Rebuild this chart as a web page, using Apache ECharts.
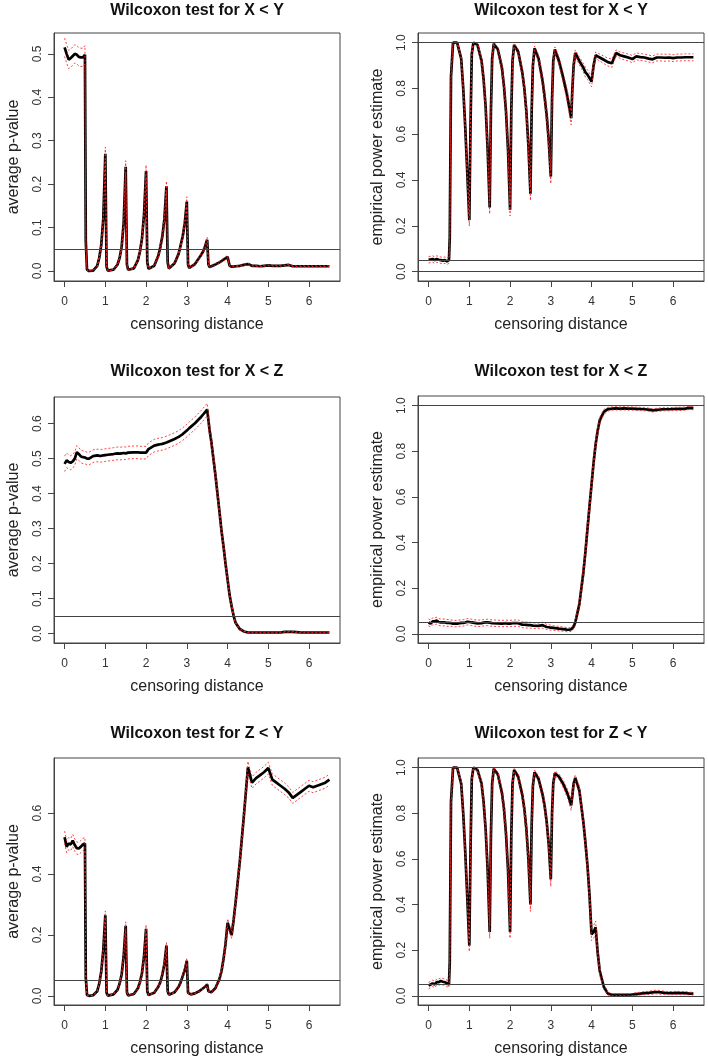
<!DOCTYPE html>
<html>
<head>
<meta charset="utf-8">
<title>Wilcoxon test censoring</title>
<script src="https://cdn.jsdelivr.net/npm/echarts@6.0.0/dist/echarts.min.js"></script>
<style>
  html, body { margin: 0; padding: 0; background: #fff; }
  #main { width: 708px; height: 1061px; }
</style>
</head>
<body>
<div id="main"></div>
<script>
// censoring distance grid shared by every panel
var dist = [0,0.05,0.1,0.15,0.2,0.25,0.3,0.35,0.4,0.45,0.5,
  0.52,0.55,0.6,0.7,0.8,0.85,0.9,0.95,1.0,
  1.03,1.06,1.1,1.2,1.3,1.35,1.4,1.45,1.5,
  1.53,1.56,1.6,1.7,1.8,1.85,1.9,1.95,2.0,
  2.03,2.06,2.1,2.2,2.3,2.35,2.4,2.45,2.5,
  2.53,2.56,2.6,2.7,2.8,2.85,2.9,2.95,3.0,
  3.03,3.06,3.1,3.2,3.3,3.35,3.4,3.45,3.5,
  3.53,3.56,3.6,3.7,3.8,3.85,3.9,3.95,4.0,
  4.05,4.1,4.15,4.2,4.3,4.4,4.5,
  4.6,4.7,4.8,4.9,5.0,5.1,5.2,5.3,5.4,5.5,5.6,5.7,5.8,5.9,6.0,6.1,6.2,6.3,6.4,6.5];

// X < Y : average p-value and band half width
var pvalXY = [0.515,0.500,0.487,0.490,0.495,0.500,0.498,0.493,0.492,0.492,0.498,
  0.070,0.003,0.000,0.001,0.012,0.030,0.060,0.120,0.270,
  0.010,0.001,0.000,0.003,0.015,0.030,0.055,0.110,0.240,
  0.015,0.003,0.002,0.006,0.025,0.045,0.075,0.130,0.230,
  0.020,0.005,0.004,0.012,0.035,0.055,0.080,0.120,0.195,
  0.020,0.006,0.006,0.018,0.040,0.060,0.080,0.110,0.160,
  0.015,0.007,0.008,0.016,0.030,0.037,0.045,0.057,0.072,
  0.015,0.009,0.010,0.015,0.020,0.023,0.026,0.029,0.033,
  0.012,0.010,0.010,0.011,0.012,0.014,0.016,
  0.012,0.012,0.011,0.012,0.013,0.012,0.012,0.012,0.013,0.014,0.011,0.011,0.011,0.011,0.011,0.011,0.011,0.011,0.011,0.011];
var pvalXYHalf = [0.021,0.021,0.021,0.021,0.021,0.021,0.021,0.021,0.021,0.021,0.021,
  0.010,0.001,0.0005,0.0005,0.002,0.004,0.006,0.009,0.015,
  0.002,0.0005,0.0005,0.001,0.002,0.004,0.006,0.009,0.014,
  0.002,0.001,0.001,0.001,0.003,0.005,0.007,0.010,0.014,
  0.002,0.001,0.001,0.002,0.004,0.006,0.007,0.009,0.012,
  0.002,0.001,0.001,0.002,0.004,0.006,0.007,0.009,0.011,
  0.002,0.001,0.001,0.002,0.003,0.004,0.004,0.005,0.006,
  0.002,0.001,0.001,0.002,0.002,0.002,0.003,0.003,0.003,
  0.001,0.001,0.001,0.001,0.001,0.002,0.002,
  0.001,0.001,0.001,0.001,0.001,0.001,0.001,0.001,0.001,0.001,0.001,0.001,0.001,0.001,0.001,0.001,0.001,0.001,0.001,0.001];

// X < Y : empirical power
var powerXY = [0.052,0.053,0.055,0.050,0.055,0.052,0.050,0.048,0.050,0.045,0.050,
  0.15,0.85,1.0,1.0,0.93,0.80,0.63,0.43,0.225,
  0.65,0.95,1.0,0.99,0.92,0.84,0.72,0.53,0.28,
  0.70,0.93,0.995,0.97,0.89,0.81,0.70,0.53,0.27,
  0.70,0.92,0.99,0.96,0.87,0.80,0.70,0.55,0.34,
  0.70,0.90,0.975,0.93,0.83,0.76,0.68,0.57,0.415,
  0.75,0.92,0.97,0.92,0.85,0.81,0.77,0.72,0.67,
  0.80,0.90,0.955,0.92,0.89,0.87,0.86,0.845,0.83,
  0.90,0.945,0.94,0.935,0.925,0.915,0.91,
  0.955,0.945,0.94,0.935,0.928,0.94,0.937,0.935,0.93,0.927,0.935,0.935,0.934,0.935,0.932,0.935,0.935,0.936,0.936,0.936];
var powerXYHalf = [0.014,0.014,0.014,0.014,0.014,0.014,0.014,0.014,0.014,0.014,0.014,
  0.022,0.022,0.002,0.002,0.016,0.025,0.030,0.031,0.026,
  0.030,0.013,0.002,0.006,0.017,0.023,0.028,0.031,0.028,
  0.028,0.016,0.004,0.011,0.019,0.024,0.028,0.031,0.027,
  0.028,0.017,0.006,0.012,0.021,0.025,0.028,0.031,0.029,
  0.028,0.019,0.010,0.016,0.023,0.026,0.029,0.031,0.031,
  0.027,0.017,0.011,0.017,0.022,0.024,0.026,0.028,0.029,
  0.025,0.019,0.013,0.017,0.019,0.021,0.021,0.022,0.023,
  0.019,0.014,0.015,0.015,0.016,0.017,0.018,
  0.013,0.014,0.015,0.015,0.016,0.015,0.015,0.015,0.015,0.015,0.015,0.015,0.015,0.015,0.015,0.015,0.015,0.015,0.015,0.015];

// X < Z : average p-value
var pvalXZ = [0.485,0.495,0.490,0.488,0.492,0.500,0.518,0.513,0.506,0.504,0.503,
  0.502,0.500,0.500,0.507,0.509,0.508,0.508,0.509,0.510,
  0.510,0.511,0.512,0.513,0.515,0.514,0.515,0.516,0.515,
  0.516,0.517,0.519,0.518,0.518,0.517,0.517,0.517,0.517,
  0.522,0.527,0.532,0.537,0.540,0.541,0.542,0.544,0.546,
  0.548,0.549,0.551,0.556,0.562,0.566,0.570,0.575,0.580,
  0.584,0.587,0.591,0.601,0.613,0.619,0.626,0.633,0.640,
  0.610,0.580,0.550,0.455,0.350,0.295,0.250,0.200,0.155,
  0.110,0.078,0.050,0.030,0.013,0.006,0.003,
  0.003,0.003,0.003,0.003,0.003,0.003,0.003,0.003,0.005,0.005,0.005,0.004,0.003,0.003,0.003,0.003,0.003,0.003,0.003,0.003];
var pvalXZHalf = [0.022,0.021,0.020,0.020,0.020,0.019,0.019,0.018,0.018,0.018,0.018,
  0.018,0.018,0.018,0.018,0.018,0.018,0.018,0.018,0.018,
  0.018,0.018,0.018,0.018,0.018,0.018,0.018,0.018,0.018,
  0.018,0.018,0.018,0.018,0.018,0.018,0.018,0.018,0.018,
  0.018,0.018,0.018,0.018,0.018,0.018,0.018,0.018,0.018,
  0.018,0.018,0.018,0.018,0.018,0.018,0.018,0.018,0.018,
  0.018,0.018,0.018,0.018,0.018,0.018,0.018,0.018,0.018,
  0.017,0.017,0.017,0.016,0.015,0.014,0.013,0.012,0.010,
  0.008,0.006,0.005,0.003,0.002,0.001,0.001,
  0.001,0.001,0.001,0.001,0.001,0.001,0.001,0.001,0.001,0.001,0.001,0.001,0.001,0.001,0.001,0.001,0.001,0.001,0.001,0.001];

// X < Z : empirical power
var powerXZ = [0.050,0.045,0.055,0.055,0.058,0.052,0.050,0.050,0.050,0.048,0.048,
  0.048,0.047,0.045,0.045,0.048,0.048,0.050,0.053,0.052,
  0.050,0.050,0.048,0.046,0.047,0.049,0.050,0.050,0.049,
  0.048,0.047,0.047,0.046,0.045,0.046,0.047,0.045,0.045,
  0.046,0.047,0.046,0.047,0.040,0.040,0.039,0.038,0.038,
  0.037,0.036,0.036,0.035,0.038,0.034,0.030,0.029,0.027,
  0.027,0.026,0.025,0.023,0.021,0.020,0.018,0.018,0.020,
  0.025,0.032,0.050,0.130,0.270,0.360,0.460,0.560,0.655,
  0.750,0.830,0.890,0.935,0.972,0.984,0.987,
  0.988,0.987,0.988,0.987,0.987,0.986,0.985,0.984,0.982,0.979,0.981,0.983,0.984,0.984,0.985,0.986,0.986,0.987,0.990,0.989];
var powerXZHalf = [0.015,0.015,0.015,0.015,0.015,0.015,0.015,0.015,0.015,0.015,0.015,
  0.014,0.014,0.014,0.014,0.014,0.014,0.014,0.014,0.014,
  0.014,0.014,0.014,0.014,0.014,0.014,0.014,0.014,0.014,
  0.014,0.014,0.014,0.014,0.014,0.014,0.014,0.014,0.014,
  0.014,0.014,0.014,0.014,0.013,0.013,0.013,0.013,0.013,
  0.013,0.012,0.012,0.012,0.013,0.012,0.011,0.011,0.011,
  0.011,0.010,0.010,0.010,0.009,0.009,0.009,0.009,0.009,
  0.010,0.011,0.014,0.021,0.028,0.030,0.031,0.031,0.029,
  0.027,0.023,0.019,0.015,0.011,0.008,0.007,
  0.007,0.007,0.007,0.007,0.007,0.007,0.007,0.007,0.007,0.007,0.007,0.007,0.007,0.007,0.007,0.007,0.007,0.007,0.007,0.007];

// Z < Y : average p-value
var pvalZY = [0.521,0.490,0.500,0.497,0.510,0.495,0.485,0.484,0.490,0.497,0.500,
  0.060,0.003,0.000,0.002,0.015,0.040,0.080,0.150,0.265,
  0.010,0.001,0.000,0.005,0.020,0.040,0.070,0.130,0.230,
  0.012,0.001,0.001,0.006,0.025,0.045,0.075,0.130,0.220,
  0.015,0.003,0.003,0.010,0.030,0.045,0.070,0.105,0.165,
  0.015,0.004,0.004,0.012,0.030,0.045,0.065,0.085,0.115,
  0.010,0.004,0.005,0.008,0.015,0.020,0.025,0.030,0.037,
  0.015,0.010,0.012,0.025,0.055,0.080,0.120,0.170,0.240,
  0.220,0.200,0.250,0.310,0.440,0.590,0.750,
  0.700,0.715,0.725,0.735,0.748,0.710,0.700,0.690,0.680,0.668,0.650,0.660,0.670,0.680,0.690,0.685,0.690,0.695,0.700,0.710];
var pvalZYHalf = [0.020,0.020,0.020,0.020,0.020,0.020,0.020,0.020,0.020,0.020,0.020,
  0.008,0.001,0.0005,0.0005,0.002,0.005,0.008,0.011,0.014,
  0.002,0.0005,0.0005,0.001,0.003,0.005,0.007,0.010,0.013,
  0.002,0.001,0.001,0.001,0.003,0.005,0.007,0.010,0.013,
  0.002,0.001,0.001,0.002,0.004,0.005,0.007,0.009,0.011,
  0.002,0.001,0.001,0.002,0.004,0.005,0.006,0.008,0.009,
  0.002,0.001,0.001,0.001,0.002,0.003,0.003,0.004,0.004,
  0.002,0.001,0.002,0.003,0.006,0.007,0.009,0.011,0.013,
  0.013,0.012,0.013,0.015,0.017,0.019,0.020,
  0.019,0.019,0.019,0.019,0.019,0.019,0.019,0.019,0.019,0.018,0.018,0.018,0.018,0.018,0.018,0.018,0.018,0.018,0.018,0.018];

// Z < Y : empirical power
var powerZY = [0.045,0.050,0.055,0.050,0.060,0.060,0.065,0.062,0.060,0.055,0.050,
  0.15,0.85,1.0,1.0,0.93,0.80,0.63,0.43,0.22,
  0.65,0.95,1.0,0.99,0.93,0.85,0.73,0.55,0.28,
  0.70,0.93,0.995,0.97,0.89,0.82,0.71,0.55,0.28,
  0.70,0.93,0.99,0.96,0.88,0.82,0.73,0.60,0.40,
  0.75,0.92,0.98,0.95,0.88,0.83,0.76,0.66,0.51,
  0.80,0.93,0.975,0.96,0.93,0.91,0.89,0.865,0.835,
  0.88,0.93,0.955,0.90,0.76,0.67,0.57,0.44,0.27,
  0.28,0.30,0.19,0.11,0.04,0.010,0.005,
  0.005,0.005,0.005,0.005,0.006,0.008,0.010,0.012,0.013,0.015,0.017,0.015,0.013,0.012,0.012,0.013,0.012,0.012,0.010,0.010];
var powerZYHalf = [0.014,0.014,0.014,0.014,0.014,0.014,0.014,0.014,0.014,0.014,0.014,
  0.022,0.022,0.002,0.002,0.016,0.025,0.030,0.031,0.026,
  0.030,0.013,0.002,0.006,0.016,0.022,0.028,0.031,0.028,
  0.028,0.016,0.004,0.011,0.019,0.024,0.028,0.031,0.028,
  0.028,0.016,0.006,0.012,0.020,0.024,0.028,0.030,0.030,
  0.027,0.017,0.009,0.014,0.020,0.023,0.026,0.029,0.031,
  0.025,0.016,0.010,0.012,0.016,0.018,0.019,0.021,0.023,
  0.020,0.016,0.013,0.019,0.026,0.029,0.031,0.031,0.028,
  0.028,0.028,0.025,0.020,0.012,0.006,0.004,
  0.004,0.004,0.004,0.004,0.005,0.006,0.006,0.007,0.007,0.008,0.008,0.008,0.007,0.007,0.007,0.007,0.007,0.007,0.006,0.006];

// tick values
var distTicks = [0, 1, 2, 3, 4, 5, 6];
var pvalTicksXY = [0, 0.1, 0.2, 0.3, 0.4, 0.5];
var pvalTicksXZ = [0, 0.1, 0.2, 0.3, 0.4, 0.5, 0.6];
var pvalTicksZY = [0, 0.2, 0.4, 0.6];
var powerTicks = [0, 0.2, 0.4, 0.6, 0.8, 1.0];
var pvalRefs = [0.05];
var powerRefs = [0, 0.05, 1];

var titles = ['Wilcoxon test for X < Y', 'Wilcoxon test for X < Y',
  'Wilcoxon test for X < Z', 'Wilcoxon test for X < Z',
  'Wilcoxon test for Z < Y', 'Wilcoxon test for Z < Y'];

var panels = [
  {mean: pvalXY, half: pvalXYHalf, ticks: pvalTicksXY, refs: pvalRefs, name: 'average p-value', min: -0.023, max: 0.548},
  {mean: powerXY, half: powerXYHalf, ticks: powerTicks, refs: powerRefs, name: 'empirical power estimate', min: -0.041, max: 1.042},
  {mean: pvalXZ, half: pvalXZHalf, ticks: pvalTicksXZ, refs: pvalRefs, name: 'average p-value', min: -0.027, max: 0.676},
  {mean: powerXZ, half: powerXZHalf, ticks: powerTicks, refs: powerRefs, name: 'empirical power estimate', min: -0.04, max: 1.042},
  {mean: pvalZY, half: pvalZYHalf, ticks: pvalTicksZY, refs: pvalRefs, name: 'average p-value', min: -0.03, max: 0.781},
  {mean: powerZY, half: powerZYHalf, ticks: powerTicks, refs: powerRefs, name: 'empirical power estimate', min: -0.04, max: 1.042}
];

var boxes = [
  {left: 54, top: 33, height: 248},
  {left: 418, top: 33, height: 248},
  {left: 54, top: 397, height: 246},
  {left: 418, top: 396, height: 247},
  {left: 54, top: 758, height: 247},
  {left: 418, top: 758, height: 247}
];
var titleTops = [3, 3, 364, 364, 726, 726];

var font = 'Liberation Sans, Arial, sans-serif';
var ink = '#222';

function pairs(ys) {
  return dist.map(function (x, i) { return [x, ys[i]]; });
}
function bandLine(ys, half, sign) {
  return dist.map(function (x, i) { return [x, ys[i] + sign * half[i]]; });
}

var chart = echarts.init(document.getElementById('main'));
var option = {
  animation: false,
  backgroundColor: '#fff',
  title: [],
  grid: [],
  xAxis: [],
  yAxis: [],
  series: []
};

panels.forEach(function (p, k) {
  var b = boxes[k];
  option.title.push({
    text: titles[k],
    left: b.left + 143,
    top: titleTops[k],
    textAlign: 'center',
    padding: 0,
    textStyle: {fontFamily: font, fontSize: 16, fontWeight: 'bold', color: '#111'}
  });
  option.grid.push({
    left: b.left, top: b.top, width: 286, height: b.height,
    show: true, borderColor: '#444', borderWidth: 1, backgroundColor: 'transparent'
  });
  option.xAxis.push({
    type: 'value', gridIndex: k, min: -0.26, max: 6.76,
    name: 'censoring distance', nameLocation: 'middle', nameGap: 36,
    nameTextStyle: {fontFamily: font, fontSize: 16, color: ink},
    axisLine: {show: true, onZero: false, lineStyle: {color: '#444'}},
    axisTick: {show: true, length: 6, customValues: distTicks, lineStyle: {color: '#444'}},
    axisLabel: {customValues: distTicks, margin: 15, fontFamily: font, fontSize: 12, color: '#333'},
    splitLine: {show: false}
  });
  option.yAxis.push({
    type: 'value', gridIndex: k, min: p.min, max: p.max,
    name: p.name, nameLocation: 'middle', nameGap: 32,
    nameTextStyle: {fontFamily: font, fontSize: 16, color: ink},
    axisLine: {show: true, onZero: false, lineStyle: {color: '#444'}},
    axisTick: {show: true, length: 6, customValues: p.ticks, lineStyle: {color: '#444'}},
    axisLabel: {
      customValues: p.ticks, rotate: 90, margin: 10,
      fontFamily: font, fontSize: 12, color: '#333',
      formatter: function (v) { return v.toFixed(1); }
    },
    splitLine: {show: false}
  });
  option.series.push({
    type: 'line', xAxisIndex: k, yAxisIndex: k, data: pairs(p.mean),
    showSymbol: false, symbol: 'none', z: 3,
    lineStyle: {color: '#000', width: 2.7},
    markLine: {
      silent: true, symbol: ['none', 'none'], label: {show: false},
      lineStyle: {color: '#444', width: 1, type: 'solid'},
      data: p.refs.map(function (r) { return {yAxis: r}; })
    }
  });
  [1, -1].forEach(function (s) {
    option.series.push({
      type: 'line', xAxisIndex: k, yAxisIndex: k, data: bandLine(p.mean, p.half, s),
      showSymbol: false, symbol: 'none', z: 4,
      lineStyle: {color: '#ff2020', width: 1, type: [2, 2], opacity: 0.85}
    });
  });
});

chart.setOption(option);
</script>
</body>
</html>
